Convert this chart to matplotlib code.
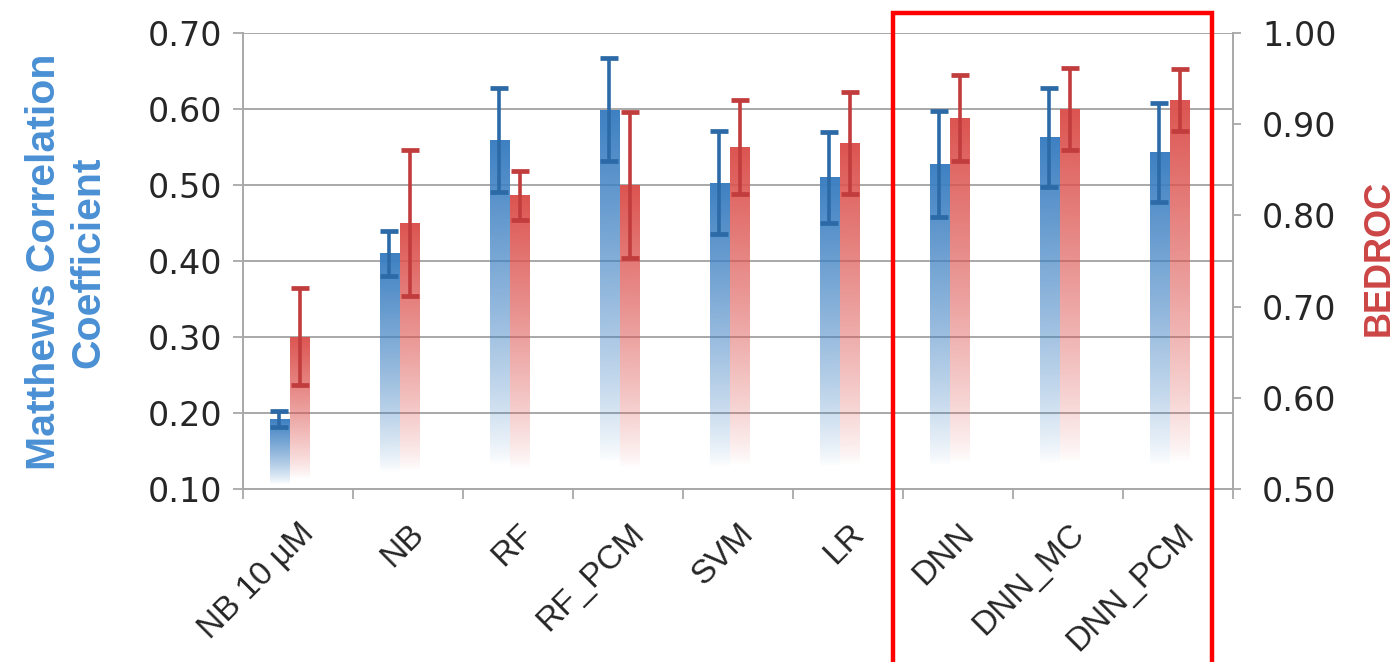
import numpy as np
import matplotlib
matplotlib.use("Agg")
import matplotlib.pyplot as plt
from matplotlib.colors import to_rgb
from matplotlib.patches import Rectangle

# ---------------- data ----------------
categories = ["NB 10 \u00b5M", "NB", "RF", "RF_PCM", "SVM", "LR", "DNN", "DNN_MC", "DNN_PCM"]
mcc = [0.192, 0.410, 0.559, 0.599, 0.503, 0.510, 0.528, 0.563, 0.543]
mcc_err = [0.011, 0.030, 0.068, 0.068, 0.068, 0.060, 0.070, 0.065, 0.065]
bedroc = [0.667, 0.792, 0.822, 0.833, 0.875, 0.879, 0.907, 0.917, 0.927]
bedroc_err = [0.053, 0.080, 0.027, 0.080, 0.051, 0.056, 0.047, 0.045, 0.034]
mcc_ticks = [0.10, 0.20, 0.30, 0.40, 0.50, 0.60, 0.70]
bedroc_ticks = [0.50, 0.60, 0.70, 0.80, 0.90, 1.00]

BLUE = "#3d80c2"
RED = "#dc5450"
BLUE_ERR = "#2b6aa6"
RED_ERR = "#c13c3c"
GRID = "#a8a8a8"
TXT = "#262626"

W, H = 1394, 662
fig = plt.figure(figsize=(W / 100, H / 100), dpi=100)
L, R, T, B = 243, 1233, 33, 489
ax = fig.add_axes([L / W, 1 - B / H, (R - L) / W, (B - T) / H])
ax2 = ax.twinx()

x = np.arange(len(categories))
bw = 0.175
xb = x - 0.17
xr = x + 0.015


def grad_bar(a, xs, vals, base, color):
    bars = a.bar(xs, np.asarray(vals) - base, bw, bottom=base,
                 color="none", edgecolor="none", zorder=2)
    rgb = to_rgb(color)
    n = 256
    t = np.linspace(0, 1, n)
    alpha = np.clip((t - 0.07) / 0.93, 0, 1) ** 0.8
    img = np.ones((n, 1, 4))
    img[..., :3] = rgb
    img[:, 0, 3] = alpha
    for p in bars:
        bb = p.get_bbox()
        im = a.imshow(img, extent=(bb.x0, bb.x1, bb.y0, bb.y1), origin="lower",
                      aspect="auto", interpolation="bilinear", zorder=2)
        im.set_clip_path(p)


grad_bar(ax, xb, mcc, mcc_ticks[0], BLUE)
ax.errorbar(xb, mcc, yerr=mcc_err, fmt="none", ecolor=BLUE_ERR,
            elinewidth=2.6, capsize=6.3, capthick=3.4, zorder=3)
grad_bar(ax2, xr, bedroc, bedroc_ticks[0], RED)
ax2.errorbar(xr, bedroc, yerr=bedroc_err, fmt="none", ecolor=RED_ERR,
             elinewidth=2.6, capsize=6.8, capthick=3.4, zorder=3)

ax.set_xlim(-0.5, len(categories) - 0.5)
ax.set_ylim(mcc_ticks[0], mcc_ticks[-1])
ax2.set_ylim(bedroc_ticks[0], bedroc_ticks[-1])

ax.set_yticks(mcc_ticks)
ax.set_yticklabels([f"{v:.2f}" for v in mcc_ticks])
ax2.set_yticks(bedroc_ticks)
ax2.set_yticklabels([f"{v:.2f}" for v in bedroc_ticks])

ax.yaxis.grid(True, color=GRID, linewidth=1.4, zorder=0)
ax.set_axisbelow(True)

# x ticks: labels at centers, tick marks at boundaries
ax.set_xticks(x)
ax.set_xticklabels(categories, rotation=45, ha="right", rotation_mode="anchor",
                   fontsize=24, color=TXT, family="Liberation Sans")
ax.set_xticks(np.arange(-0.5, len(categories)), minor=True)
ax.tick_params(axis="x", which="major", length=0, pad=21)
ax.tick_params(axis="x", which="minor", length=7, width=1.3, color=GRID, direction="out")

for a in (ax, ax2):
    for s in a.spines.values():
        s.set_color(GRID)
        s.set_linewidth(1.4)
    a.spines["top"].set_visible(False)
ax2.spines["left"].set_visible(False)
ax2.spines["bottom"].set_visible(False)
ax.spines["right"].set_visible(False)

ax.tick_params(axis="y", length=7, width=1.3, color=GRID, direction="out", pad=8,
               labelsize=24, labelcolor=TXT)
ax2.tick_params(axis="y", length=6, width=1.3, color=GRID, direction="out", pad=15,
                labelsize=24, labelcolor=TXT)
for lab in ax.get_yticklabels() + ax2.get_yticklabels():
    lab.set_family("DejaVu Sans")

fig.text(66 / W, 1 - 262 / H, "Matthews Correlation\nCoefficient", rotation=90,
         ha="center", va="center", multialignment="center", fontsize=29.5,
         fontweight="bold", color="#4a90d4", family="Liberation Sans", linespacing=1.2)
fig.text(1379 / W, 1 - 258 / H, "BEDROC", rotation=90, ha="center", va="center",
         fontsize=26, fontweight="bold", color="#cc4545", family="Liberation Sans")

# red highlight box around DNN group
fig.add_artist(Rectangle((893 / W, -0.1), (1212 - 893) / W, 1.1 - 13 / H,
                         transform=fig.transFigure, fill=False, edgecolor="#ff0000",
                         linewidth=3.2, clip_on=False, zorder=10))

fig.savefig("out.png", dpi=100)
